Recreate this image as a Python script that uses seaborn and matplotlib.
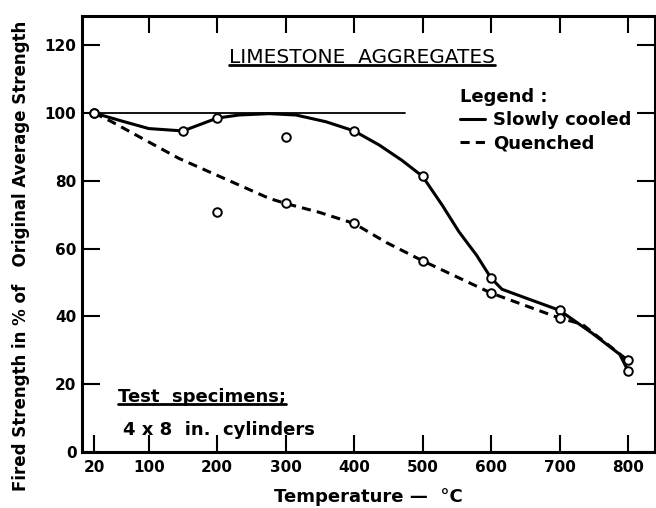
import numpy as np
import pandas as pd
import matplotlib
matplotlib.use("Agg")
import matplotlib.pyplot as plt
import seaborn as sns
from matplotlib.lines import Line2D

# measured points (temperature in C, strength in % of original)
slow_t = [20, 150, 200, 400, 500, 600, 700, 800]
slow_v = [100, 94.7, 98.5, 94.7, 81.3, 51.3, 41.8, 24.0]
quench_t = [20, 300, 400, 500, 600, 700, 800]
quench_v = [100, 73.3, 67.4, 56.4, 46.9, 39.5, 27.0]
stray_t = [200, 300]
stray_v = [70.9, 92.9]

# hand drawn curves
slow_curve_t = [20, 61, 100, 150, 200, 232, 276, 315, 359, 400, 437, 470, 500,
                529, 553, 579, 600, 616, 651, 700, 748, 788, 800]
slow_curve_v = [100, 97.6, 95.4, 94.7, 98.5, 99.4, 99.8, 99.4, 97.4, 94.7, 90.5,
                86.0, 81.3, 72.7, 65.0, 58.0, 51.3, 48.0, 45.4, 41.8, 35.0, 28.8, 24.0]
quench_curve_t = [20, 46, 144, 276, 300, 349, 400, 447, 500, 600, 700, 733, 800]
quench_curve_v = [100, 97.4, 86.6, 74.8, 73.3, 70.7, 67.4, 61.8, 56.4, 46.9, 39.5, 37.7, 27.0]

ref_t = [20, 474]
ref_v = [100, 100]

xticks = [20, 100, 200, 300, 400, 500, 600, 700, 800]
yticks = [0, 20, 40, 60, 80, 100, 120]

sns.set_style("ticks")
plt.rcParams['font.family'] = ['DejaVu Sans']
plt.rcParams.update({'text.color': 'black', 'axes.labelcolor': 'black',
                     'xtick.color': 'black', 'ytick.color': 'black',
                     'axes.edgecolor': 'black'})

fig = plt.figure(figsize=(6.56, 5.08), dpi=100)
ax = fig.add_axes([82/656, 1 - 452/508, 573/656, 436/508])

sns.lineplot(x=ref_t, y=ref_v, ax=ax, color='black', lw=1.3, sort=False)
sns.lineplot(x=slow_curve_t, y=slow_curve_v, ax=ax, color='black', lw=2.2,
             sort=False, label='Slowly cooled')
sns.lineplot(x=quench_curve_t, y=quench_curve_v, ax=ax, color='black', lw=2.2,
             sort=False, linestyle=(0, (3, 2)), label='Quenched')

pts = pd.DataFrame({
    't': slow_t + quench_t + stray_t,
    'v': slow_v + quench_v + stray_v,
})
sns.scatterplot(data=pts, x='t', y='v', ax=ax, s=38, facecolor='white',
                edgecolor='black', linewidth=1.4, zorder=5)

ax.set_xlim(2.5, 839.5)
ax.set_ylim(0, 128.6)
ax.set_xticks(xticks)
ax.set_yticks(yticks)
ax.set_xticklabels([str(t) for t in xticks], fontsize=11, fontweight='bold')
ax.set_yticklabels([str(t) for t in yticks], fontsize=11, fontweight='bold')
ax.tick_params(axis='x', direction='in', length=12, width=1.5, pad=6)
ax.tick_params(axis='y', direction='in', length=13, width=1.5, pad=4,
               right=True)
for sp in ax.spines.values():
    sp.set_linewidth(2.2)
    sp.set_color('black')

top = ax.secondary_xaxis('top')
top.set_xticks(xticks[1:])
top.set_xticklabels([])
top.tick_params(direction='in', length=12, width=1.5)

ax.set_xlabel('Temperature —  °C', fontsize=13, fontweight='bold')
ax.xaxis.set_label_coords(0.5, -0.083)
ax.set_ylabel('Fired Strength in % of   Original Average Strength',
              fontsize=12, fontweight='bold')
ax.yaxis.set_label_coords(-0.09, 0.45)

title = ax.text(411, 116.5, 'LIMESTONE  AGGREGATES', fontsize=14.5,
                ha='center', va='center')
spec = ax.text(55, 16.2, 'Test  specimens;', fontsize=13, fontweight='bold',
               ha='left', va='center')
ax.text(62, 6.5, '4 x 8  in.  cylinders', fontsize=13, fontweight='bold',
        ha='left', va='center')

handles, labels = ax.get_legend_handles_labels()
leg = ax.legend(handles, labels, title='Legend :', loc='upper left',
                bbox_to_anchor=(0.66, 0.835), frameon=False, alignment='left',
                handlelength=1.4, handletextpad=0.4, borderpad=0,
                labelspacing=0.3, prop={'size': 13, 'weight': 'bold'},
                title_fontproperties={'size': 13, 'weight': 'bold'},
                borderaxespad=0)

# underline the two headings
fig.canvas.draw()
r = fig.canvas.get_renderer()
W, H = fig.bbox.width, fig.bbox.height
for t in [title, spec]:
    bb = t.get_window_extent(r)
    y = (bb.y0 + 2) / H
    fig.add_artist(Line2D([bb.x0 / W, bb.x1 / W], [y, y], color='black', lw=2))

fig.savefig('out.png', dpi=100)
